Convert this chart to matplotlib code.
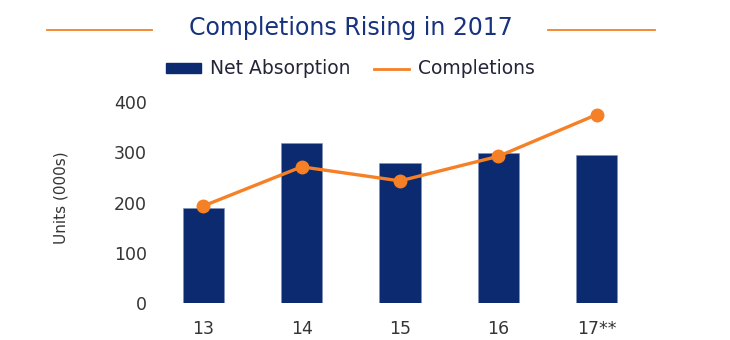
import matplotlib
matplotlib.use("Agg")
import matplotlib.pyplot as plt
from matplotlib.lines import Line2D
from matplotlib.patches import Patch

plt.rcParams['font.family'] = ['DejaVu Sans']

categories = ["13", "14", "15", "16", "17**"]
net_absorption = [190, 318, 279, 298, 294]
completions = [193, 271, 243, 292, 375]
yticks = [0, 100, 200, 300, 400]

NAVY = "#0b2a6f"
ORANGE = "#f58025"
TITLE_C = "#17327e"
TEXT_C = "#353535"

W, H = 730, 340
fig = plt.figure(figsize=(7.3, 3.4), dpi=100)
ax = fig.add_axes([154/W, (H-303)/H, (646-154)/W, (303-102)/H])

x = list(range(len(categories)))
ax.bar(x, net_absorption, width=0.42, color=NAVY, edgecolor="#7f8fb8", linewidth=0.4, zorder=2)
ax.plot(x, completions, color=ORANGE, linewidth=2.4, marker="o", markersize=9,
        zorder=3, clip_on=False)

ax.set_xlim(-0.5, 4.5)
ax.set_ylim(0, 400)
ax.set_xticks(x)
ax.set_xticklabels(categories)
ax.set_yticks(yticks)
for s in ax.spines.values():
    s.set_visible(False)
ax.tick_params(axis="both", length=0, labelsize=12.5, colors=TEXT_C)
ax.tick_params(axis="y", pad=5)
ax.tick_params(axis="x", pad=12)
ax.set_ylabel("Units (000s)", fontsize=11, color=TEXT_C)
ax.yaxis.label.set_verticalalignment("center")
ax.yaxis.set_label_coords((61-154)/492, (303-198)/201)

# Title with side rules
fig.text(351/W, 1 - 35.5/H, "Completions Rising in 2017", ha="center", va="baseline",
         fontsize=17, color=TITLE_C)
fig.add_artist(Line2D([47/W, 152/W], [1 - 30/H]*2, color=ORANGE, linewidth=1.3))
fig.add_artist(Line2D([548/W, 655/W], [1 - 30/H]*2, color=ORANGE, linewidth=1.3))

handles = [Patch(facecolor=NAVY, edgecolor=NAVY),
           Line2D([0], [0], color=ORANGE, linewidth=2)]
fig.legend(handles, ["Net Absorption", "Completions"], loc="center",
           bbox_to_anchor=(350/W, 1 - 69/H), ncol=2, frameon=False,
           fontsize=13.5, handlelength=1.9, handleheight=0.4, columnspacing=1.25,
           handletextpad=0.45, labelcolor="#25253a")

fig.savefig("out.png", dpi=100)
